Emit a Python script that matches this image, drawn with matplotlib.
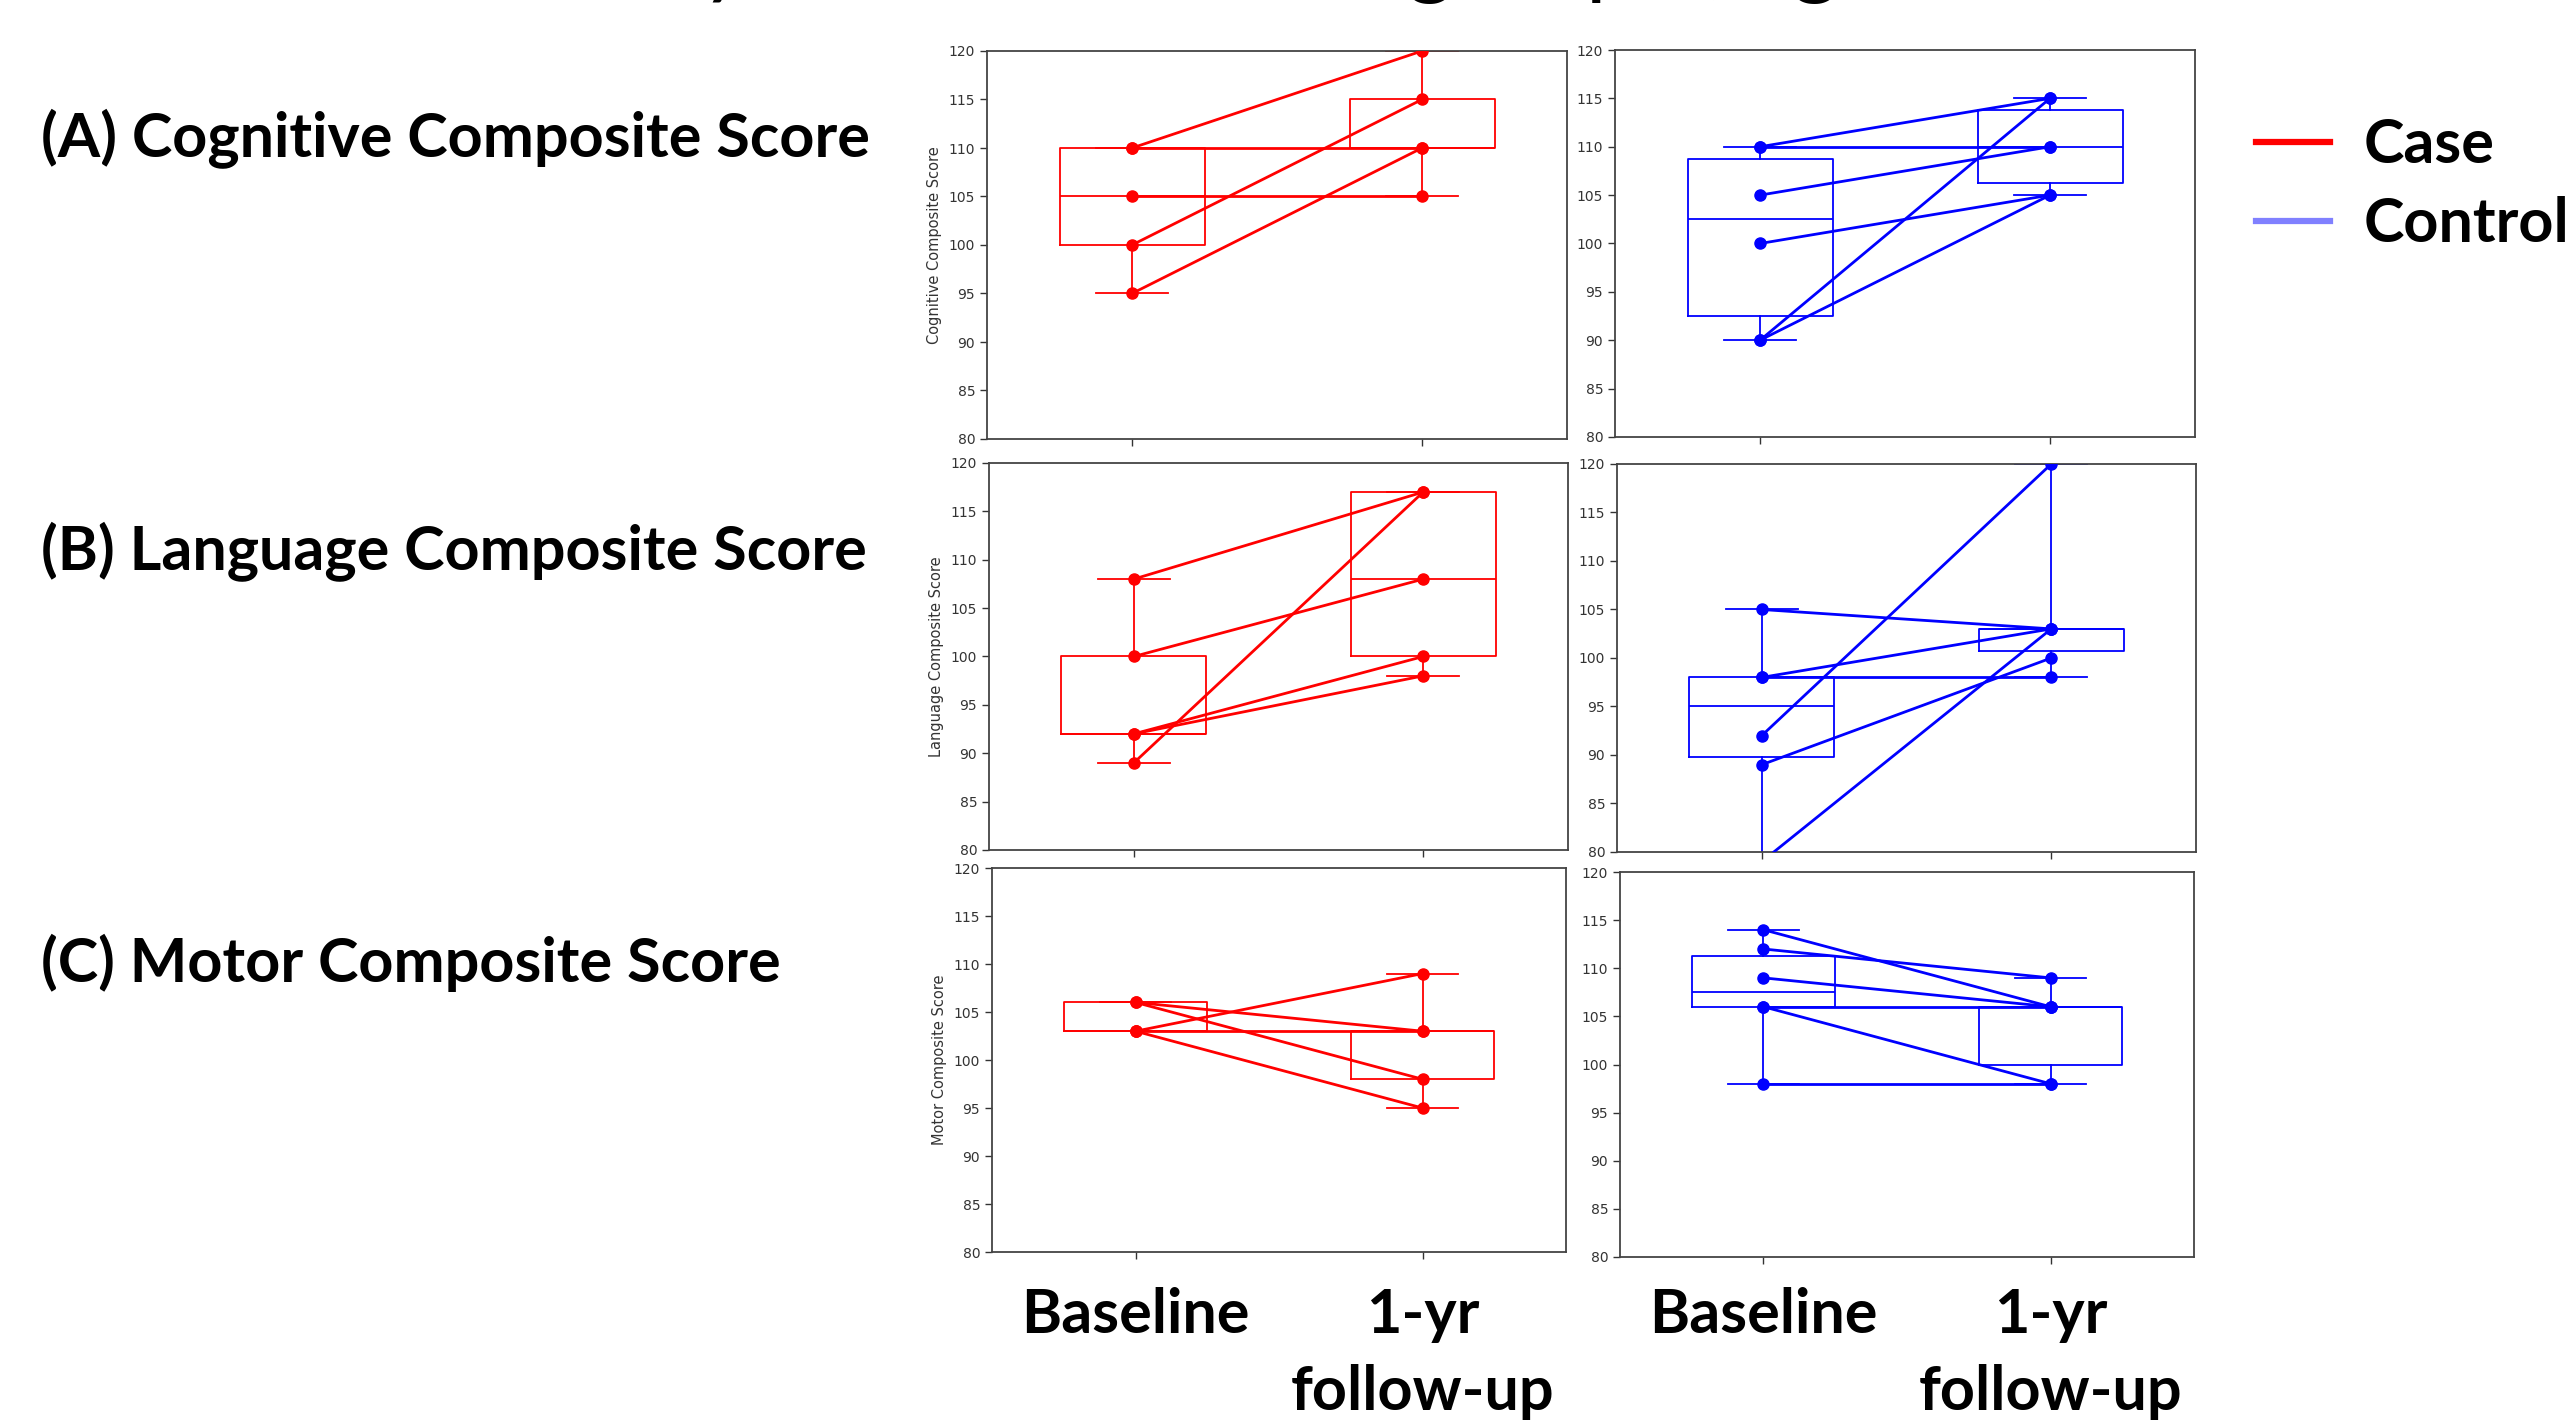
import matplotlib
matplotlib.use("Agg")
import matplotlib.pyplot as plt
from matplotlib.lines import Line2D
from matplotlib.transforms import blended_transform_factory

# data: one value per subject, baseline -> 1-yr follow-up
cog_case_base = [110, 110, 105, 100, 95]
cog_case_fu = [120, 110, 105, 115, 110]
cog_ctrl_base = [110, 110, 105, 100, 90, 90]
cog_ctrl_fu = [115, 110, 110, 105, 115, 105]

lang_case_base = [108, 100, 89, 92, 92]
lang_case_fu = [117, 108, 117, 100, 98]
lang_ctrl_base = [105, 98, 98, 92, 89, 79]
lang_ctrl_fu = [103, 103, 98, 120, 100, 103]

mot_case_base = [106, 106, 103, 103, 103]
mot_case_fu = [103, 98, 109, 95, 103]
mot_ctrl_base = [114, 112, 109, 106, 106, 98]
mot_ctrl_fu = [106, 109, 106, 106, 98, 98]

row_labels = ["(A) Cognitive Composite Score", "(B) Language Composite Score", "(C) Motor Composite Score"]
ylabels = ["Cognitive Composite Score", "Language Composite Score", "Motor Composite Score"]
time_labels = ["Baseline", "1-yr", "follow-up"]
yticks = [80, 85, 90, 95, 100, 105, 110, 115, 120]

W, H = 2567, 1420
fig = plt.figure(figsize=(W / 100, H / 100), dpi=100)

# axes boxes in pixels (left, top, right, bottom)
boxes = [
    [(987, 51, 1567, 439), (1615, 50, 2195, 437)],
    [(989, 463, 1568, 850), (1617, 464, 2196, 852)],
    [(992, 868, 1566, 1252), (1620, 872, 2194, 1257)],
]
rows = [
    [(cog_case_base, cog_case_fu), (cog_ctrl_base, cog_ctrl_fu)],
    [(lang_case_base, lang_case_fu), (lang_ctrl_base, lang_ctrl_fu)],
    [(mot_case_base, mot_case_fu), (mot_ctrl_base, mot_ctrl_fu)],
]
colors = ["#ff0000", "#0000ff"]

axes = []
for r in range(3):
    for c in range(2):
        l, t, rr, b = boxes[r][c]
        ax = fig.add_axes([l / W, 1 - b / H, (rr - l) / W, (b - t) / H])
        base, fu = rows[r][c]
        col = colors[c]
        lp = dict(color=col, linewidth=1.3)
        ax.boxplot([base, fu], positions=[0, 1], widths=0.5, whis=(0, 100),
                   showfliers=False, boxprops=lp, whiskerprops=lp, capprops=lp,
                   medianprops=lp, zorder=2)
        for b0, f0 in zip(base, fu):
            ax.plot([0, 1], [b0, f0], "o-", color=col, lw=2, ms=8, zorder=3)
        ax.set_xlim(-0.5, 1.5)
        ax.set_ylim(80, 120)
        ax.set_yticks(yticks)
        ax.set_xticks([0, 1])
        ax.set_xticklabels(["", ""])
        ax.tick_params(labelsize=10, length=5, width=1, colors="#333333")
        for s in ax.spines.values():
            s.set_color("#444444")
            s.set_linewidth(1.3)
        if c == 0:
            ax.set_ylabel(ylabels[r], fontsize=10.5, color="#333333", labelpad=5)
        axes.append(ax)

# panel titles on the left
row_y = [139, 552, 963]
for lab, y in zip(row_labels, row_y):
    fig.text(41 / W, 1 - y / H, lab, fontsize=44, fontweight="bold",
             family="Lato", va="center", ha="left")

# time point labels under the bottom row
for ax in axes[4:]:
    tr = blended_transform_factory(ax.transData, fig.transFigure)
    fig.text(0, 1 - 1315 / H, time_labels[0], transform=tr, ha="center", va="center",
             fontsize=44, fontweight="bold", family="Lato")
    fig.text(1, 1 - 1315 / H, time_labels[1], transform=tr, ha="center", va="center",
             fontsize=44, fontweight="bold", family="Lato")
    fig.text(1, 1 - 1392 / H, time_labels[2], transform=tr, ha="center", va="center",
             fontsize=44, fontweight="bold", family="Lato")

# legend drawn by hand at the right
for y, col, name in [(142, "#ff0000", "Case"), (221, "#8080ff", "Control")]:
    fig.add_artist(Line2D([2256 / W, 2330 / W], [1 - y / H, 1 - y / H], color=col, lw=4.5))
    fig.text(2364 / W, 1 - (y + 3) / H, name, fontsize=44, fontweight="bold",
             family="Lato", va="center", ha="left")

# slide title, mostly cut off at the top edge
fig.text(2065 / W, 1 + 13 / H, "Study outcomes in subgroups (Figure 2)", fontsize=64,
         family="Lato", ha="right", va="baseline")

fig.savefig("out.png", dpi=100)
